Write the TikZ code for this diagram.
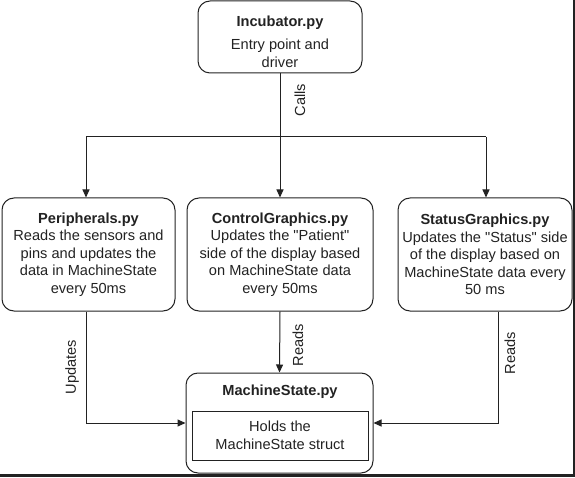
\documentclass[tikz,border=0pt]{standalone}
\usepackage{fontspec}
\setmainfont{Liberation Sans}[Ligatures=TeXOff]
\usetikzlibrary{arrows.meta}
\definecolor{ink}{HTML}{222222}
\begin{document}
\begin{tikzpicture}[x=1pt,y=1pt,
  box/.style={draw=ink,line width=1pt,rounded corners=12pt,inner sep=0pt},
  txt/.style={text=ink,font=\fontsize{14.6}{17.5}\selectfont,align=center},
  lbl/.style={text=ink,font=\fontsize{14.6}{16}\selectfont,rotate=90},
  arr/.style={draw=ink,line width=1pt,-{Triangle[length=8pt,width=7pt]}},
  ln/.style={draw=ink,line width=1pt}]
\useasboundingbox (0,0) rectangle (575,477);
\fill[ink] (573,0) rectangle (575,477);
\fill[ink] (0,0) rectangle (575,3);
% boxes
\node[box,minimum width=164pt,minimum height=72pt] (inc) at (280,440) {};
\node[txt] (inct) at (280,454) {\textbf{Incubator.py}};
\node[txt] (incd) at (280,423.5) {Entry point and\\driver};
\node[box,minimum width=173pt,minimum height=113pt] (per) at (88.5,222.5) {};
\node[txt] (pert) at (88.5,222.5) {\textbf{Peripherals.py}\\Reads the sensors and\\pins and updates the\\data in MachineState\\every 50ms};
\node[box,minimum width=186pt,minimum height=113pt] (ctl) at (280,222.5) {};
\node[txt] (ctlt) at (280,222.5) {\textbf{ControlGraphics.py}\\Updates the "Patient"\\side of the display based\\on MachineState data\\every 50ms};
\node[box,minimum width=174pt,minimum height=113pt] (st) at (485,222.5) {};
\node[txt] (stt) at (485,222.5) {\textbf{StatusGraphics.py}\\Updates the "Status" side\\of the display based on\\MachineState data every\\50 ms};
\node[box,minimum width=187pt,minimum height=100pt] (ms) at (279.5,54) {};
\node[txt] (mst) at (280,85) {\textbf{MachineState.py}};
\node[draw=ink,line width=1pt,minimum width=176pt,minimum height=49pt,inner sep=0pt] (msi) at (280,41.5) {};
\node[txt] (msit) at (280,41.5) {Holds the\\MachineState struct};
% connectors
\coordinate (j) at (280,340);
\coordinate (jl) at (86,340);
\coordinate (jr) at (486,340);
\draw[ln] (inc.south) -- (j);
\draw[ln] (jl) -- (jr);
\draw[arr] (jl) -- (jl |- per.north);
\draw[arr] (j) -- (ctl.north);
\draw[arr] (jr) -- (jr |- st.north);
\draw[arr] ([xshift=-2.5pt]per.south) |- (ms.west);
\draw[arr] (ctl.south) -- (ms.north);
\draw[arr] ([xshift=13pt]st.south) |- (ms.east);
% labels
\node[lbl] (lcalls) at (300,377) {Calls};
\node[lbl] (lupd) at (72,110) {Updates};
\node[lbl] (lr1) at (298,132) {Reads};
\node[lbl] (lr2) at (510,124) {Reads};
\end{tikzpicture}
\end{document}
